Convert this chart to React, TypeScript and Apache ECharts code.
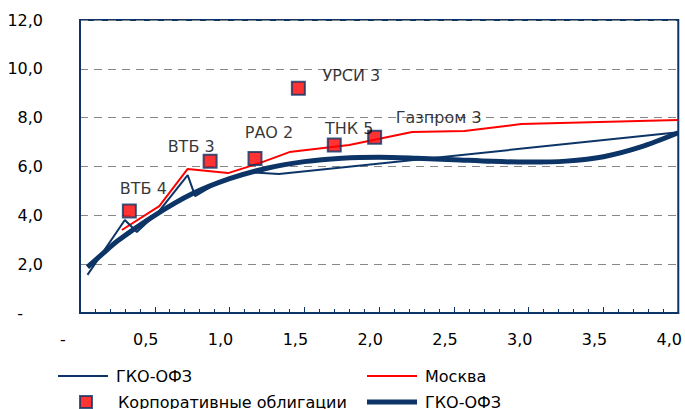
import React, { useEffect, useRef } from "react";
import * as echarts from "echarts";

// ГКО-ОФЗ (фактические точки)
const thinDur = [0.05, 0.3, 0.38, 0.53, 0.72, 0.77, 0.91, 1.13, 1.33, 4.0];
const thinYield = [1.56, 3.81, 3.32, 4.18, 5.65, 4.79, 5.3, 5.77, 5.69, 7.4];

// Москва
const moscowDur = [0.28, 0.53, 0.72, 0.99, 1.2, 1.4, 1.8, 2.22, 2.57, 2.95, 4.0];
const moscowYield = [3.4, 4.38, 5.9, 5.73, 6.14, 6.59, 6.88, 7.41, 7.45, 7.74, 7.9];

// Корпоративные облигации
const corpNames = ["ВТБ 4", "ВТБ 3", "РАО 2", "УРСИ 3", "ТНК 5", "Газпром 3"];
const corpDur = [0.33, 0.87, 1.17, 1.46, 1.7, 1.97];
const corpYield = [4.18, 6.22, 6.33, 9.2, 6.88, 7.2];

// ГКО-ОФЗ (кривая)
const fitDur = [0.05, 0.15, 0.25, 0.5, 0.75, 1.0, 1.25, 1.5, 1.75, 2.0, 2.25, 2.5, 2.75, 3.0, 3.25, 3.5, 3.75, 4.0];
const fitYield = [1.88, 2.42, 2.95, 4.0, 4.88, 5.5, 5.93, 6.2, 6.34, 6.38, 6.34, 6.28, 6.21, 6.18, 6.22, 6.4, 6.8, 7.38];

// label placement (layout only)
const corpLabelOffsets = [
  [14, -22],
  [-19, -15],
  [14, -26],
  [53, -13],
  [15, -17],
  [64, -20],
];

const NAVY = "#0c3466";
const RED = "#ff0000";
const FONT = "DejaVu Sans";
const FS = 16;

const fmt = (v: number) => v.toFixed(1).replace(".", ",");

export default function App() {
  const ref = useRef<HTMLDivElement>(null);
  useEffect(() => {
    document.body.style.margin = "0";
    const chart = echarts.init(ref.current!, null, { renderer: "svg" });
    const textStyle = { fontFamily: FONT, fontSize: FS, color: "#000" };
    const option: any = {
      animation: false,
      backgroundColor: "#fff",
      textStyle,
      grid: {
        left: 80,
        top: 20,
        width: 600,
        height: 293,
        show: true,
        borderColor: NAVY,
        borderWidth: 2,
        backgroundColor: "transparent",
      },
      xAxis: {
        type: "value",
        min: 0,
        max: 4,
        interval: 0.5,
        axisLine: { show: true, lineStyle: { color: NAVY, width: 2 } },
        axisTick: { show: true, inside: true, length: 6, lineStyle: { color: NAVY, width: 1 } },
        minorTick: { show: true, splitNumber: 5, length: 4, lineStyle: { color: NAVY, width: 1 } },
        splitLine: { show: false },
        axisLabel: {
          show: true,
          margin: 18,
          showMinLabel: true,
          showMaxLabel: true,
          fontFamily: FONT,
          fontSize: FS,
          color: "#000",
          padding: [0, 18, 0, 0],
          formatter: (v: number) => (v === 0 ? "{d|-}" : fmt(v)),
          rich: { d: { fontFamily: FONT, fontSize: FS, color: "#000", padding: [0, 16, 0, 0] } },
        },
      },
      yAxis: {
        type: "value",
        min: 0,
        max: 12,
        interval: 2,
        axisLine: { show: true, lineStyle: { color: NAVY, width: 2 } },
        axisTick: { show: false },
        splitLine: { show: true, lineStyle: { color: "#888", width: 1, type: [8, 6] } },
        axisLabel: {
          margin: 37,
          fontFamily: FONT,
          fontSize: FS,
          color: "#000",
          formatter: (v: number) => (v === 0 ? "{d|-}" : fmt(v)),
          rich: { d: { fontFamily: FONT, fontSize: FS, color: "#000", padding: [0, 20, 0, 0] } },
        },
      },
      legend: [
        {
          data: ["ГКО-ОФЗ"],
          left: 53,
          top: 363,
          icon: "rect",
          itemWidth: 50,
          itemHeight: 2,
          textStyle: { ...textStyle, padding: [0, 0, 0, 3] },
        },
        {
          data: ["Москва"],
          left: 362,
          top: 363,
          icon: "rect",
          itemWidth: 50,
          itemHeight: 2,
          textStyle: { ...textStyle, padding: [0, 0, 0, 3] },
        },
        {
          data: ["Корпоративные облигации"],
          left: 74,
          top: 389,
          itemWidth: 12,
          itemHeight: 12,
          textStyle: { ...textStyle, padding: [0, 0, 0, 21] },
        },
        {
          data: ["ГКО-ОФЗ "],
          left: 362,
          top: 389,
          icon: "rect",
          itemWidth: 50,
          itemHeight: 5,
          textStyle: { ...textStyle, padding: [0, 0, 0, 3] },
        },
      ],
      series: [
        {
          name: "ГКО-ОФЗ",
          type: "line",
          symbol: "none",
          lineStyle: { color: NAVY, width: 2 },
          itemStyle: { color: NAVY },
          data: thinDur.map((d, i) => [d, thinYield[i]]),
          z: 3,
        },
        {
          name: "Москва",
          type: "line",
          symbol: "none",
          lineStyle: { color: RED, width: 2 },
          itemStyle: { color: RED },
          data: moscowDur.map((d, i) => [d, moscowYield[i]]),
          z: 2,
        },
        {
          name: "ГКО-ОФЗ ",
          type: "line",
          symbol: "none",
          smooth: 0.3,
          lineStyle: { color: NAVY, width: 5 },
          itemStyle: { color: NAVY },
          data: fitDur.map((d, i) => [d, fitYield[i]]),
          z: 4,
        },
        {
          name: "Корпоративные облигации",
          type: "scatter",
          symbol: "rect",
          symbolSize: 13,
          itemStyle: { color: RED, borderColor: NAVY, borderWidth: 2 },
          z: 5,
          label: {
            show: true,
            position: "inside",
            formatter: "{b}",
            fontFamily: FONT,
            fontSize: FS,
            color: "#000",
          },
          data: corpNames.map((n, i) => ({
            name: n,
            value: [corpDur[i], corpYield[i]],
            label: { offset: corpLabelOffsets[i] },
          })),
        },
      ],
    };
    chart.setOption(option);
    return () => chart.dispose();
  }, []);
  return (
    <div
      ref={ref}
      style={{ position: "absolute", left: 0, top: 0, width: 685, height: 409 }}
    />
  );
}
